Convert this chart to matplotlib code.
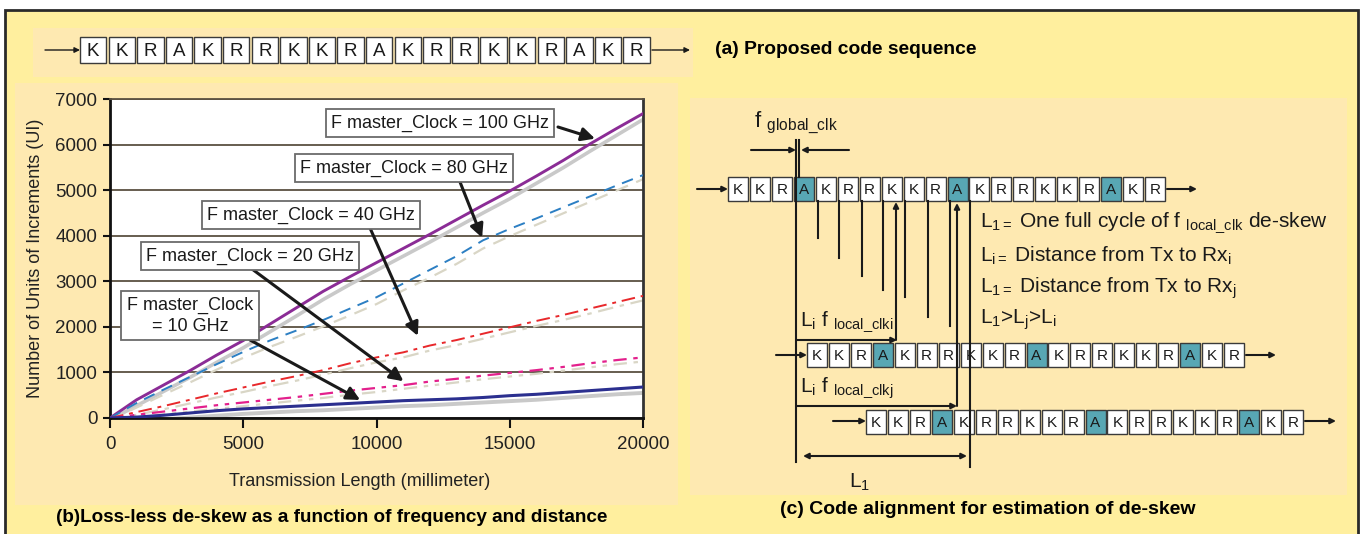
import matplotlib
matplotlib.use("Agg")
import matplotlib.pyplot as plt
from matplotlib.patches import Rectangle
from matplotlib import font_manager
import numpy as np

plt.rcParams['font.family'] = ['Liberation Sans', 'DejaVu Sans']
plt.rcParams['mathtext.fontset'] = 'custom'
plt.rcParams['mathtext.rm'] = 'Liberation Sans'
plt.rcParams['mathtext.it'] = 'Liberation Sans'

installed = {f.name for f in font_manager.fontManager.ttflist}
NARROW = 'Liberation Sans Narrow' if 'Liberation Sans Narrow' in installed else 'Liberation Sans'

# code sequence used in every row
code_seq = "KKRAKRRKKRAKRRKKRAKR"

# de-skew (UI) vs transmission length, read per master clock
distance_mm = [0, 1000, 2000, 3000, 4000, 5000, 6000, 7000, 8000, 9000, 10000,
               11000, 12000, 13000, 14000, 15000, 16000, 17000, 18000, 19000, 20000]
ui_100 = [0, 400, 720, 1040, 1380, 1700, 2060, 2420, 2780, 3100, 3410,
          3720, 4030, 4350, 4670, 4980, 5310, 5650, 6010, 6350, 6680]
ui_100_ref = [-40, 270, 580, 890, 1220, 1540, 1890, 2240, 2600, 2930, 3240,
              3550, 3860, 4180, 4500, 4810, 5150, 5490, 5850, 6200, 6550]
ui_80 = [0, 330, 620, 900, 1180, 1450, 1700, 1920, 2150, 2400, 2650,
         2950, 3250, 3550, 3900, 4150, 4380, 4620, 4860, 5100, 5330]
ui_80_ref = [-40, 230, 510, 780, 1060, 1320, 1560, 1780, 2010, 2250, 2500,
             2800, 3080, 3380, 3720, 3990, 4240, 4490, 4740, 4990, 5240]
ui_40 = [0, 130, 260, 400, 540, 670, 800, 920, 1050, 1200, 1330,
         1440, 1590, 1710, 1850, 1990, 2130, 2260, 2400, 2540, 2680]
ui_40_ref = [-30, 70, 190, 320, 450, 570, 700, 820, 950, 1090, 1220,
             1330, 1480, 1600, 1740, 1880, 2020, 2150, 2290, 2440, 2580]
ui_20 = [0, 70, 140, 210, 280, 340, 400, 460, 530, 600, 660,
         720, 800, 860, 930, 990, 1050, 1120, 1200, 1270, 1330]
ui_20_ref = [-40, 10, 80, 140, 200, 260, 320, 380, 440, 510, 570,
             640, 710, 780, 850, 910, 970, 1040, 1110, 1180, 1240]
ui_10 = [0, 20, 60, 110, 160, 200, 230, 260, 290, 320, 350,
         380, 400, 420, 450, 490, 520, 560, 600, 640, 680]
ui_10_ref = [-70, -50, -30, 10, 50, 90, 120, 150, 170, 200, 230,
             260, 280, 310, 340, 370, 400, 440, 480, 520, 550]

x_ticks = [0, 5000, 10000, 15000, 20000]
y_ticks = [0, 1000, 2000, 3000, 4000, 5000, 6000, 7000]

W, H = 1364, 534
fig = plt.figure(figsize=(W / 100, H / 100), dpi=100)
fig.patch.set_facecolor('white')

# background / diagram layer in pixel units
bg = fig.add_axes([0, 0, 1, 1], zorder=0)
bg.set_xlim(0, W)
bg.set_ylim(H, 0)
bg.axis('off')

OUTER = '#FFEF9E'
INNER = '#FEE9B1'
bg.add_patch(Rectangle((5, 10), 1353, H, fc=OUTER, ec='none'))
bg.plot([5, 5, 1358, 1358], [H, 10, 10, H], color='#2a2a2a', lw=2,
        solid_joinstyle='miter')
bg.add_patch(Rectangle((33, 28), 660, 49, fc=INNER, ec='none'))
bg.add_patch(Rectangle((15, 83), 663, 422, fc=INNER, ec='none'))
bg.add_patch(Rectangle((690, 98), 657, 397, fc=INNER, ec='none'))


def arrow(ax, p0, p1, lw=1.5, ms=10, style='-|>'):
    ax.annotate('', xy=p1, xytext=p0, xycoords='data', textcoords='data',
                arrowprops=dict(arrowstyle=style, lw=lw, color='#1a1a1a',
                                mutation_scale=ms, shrinkA=0, shrinkB=0))


def draw_seq(ax, x0, ytop, pitch, bw, bh, fs, teal=False):
    for i, ch in enumerate(code_seq):
        fc = '#58A7B4' if (teal and ch == 'A') else 'white'
        ax.add_patch(Rectangle((x0 + i * pitch, ytop), bw, bh, fc=fc,
                               ec='#3a3a3a', lw=1.0))
        ax.text(x0 + i * pitch + bw / 2, ytop + bh / 2 + 1, ch, ha='center',
                va='center', fontsize=fs, color='#1a1a1a')


# (a) proposed code sequence
draw_seq(bg, 80, 37, 28.6, 26.3, 26, 13.5)
arrow(bg, (45, 50), (80, 50), lw=1.0, ms=8)
arrow(bg, (652, 50), (690, 50), lw=1.0, ms=8)
bg.text(715, 49, "(a) Proposed code sequence", fontsize=13.9, fontweight='bold',
        ha='left', va='center', family=[NARROW, 'Liberation Sans'])

# (b) chart
ax = fig.add_axes([110 / W, (H - 418) / H, 533 / W, 319 / H], zorder=2)
ax.set_facecolor('white')
ax.set_xlim(0, 20000)
ax.set_ylim(0, 7000)

gray_solid = '#C9C9C9'
gray_dash = '#D9D6C6'
ax.plot(distance_mm, ui_100_ref, color=gray_solid, lw=2.6, zorder=2)
ax.plot(distance_mm, ui_80_ref, color=gray_dash, lw=1.6, dashes=(6, 4), zorder=2)
ax.plot(distance_mm, ui_40_ref, color=gray_dash, lw=1.6, dashes=(7, 3, 2, 3), zorder=2)
ax.plot(distance_mm, ui_20_ref, color=gray_dash, lw=1.6, dashes=(6, 3, 2, 3, 2, 3), zorder=2)
ax.plot(distance_mm, ui_10_ref, color=gray_solid, lw=2.8, zorder=2)

ax.plot(distance_mm, ui_100, color='#8B2C96', lw=2.1, zorder=3)
ax.plot(distance_mm, ui_80, color='#2C7FC3', lw=1.4, dashes=(6, 4), zorder=3)
ax.plot(distance_mm, ui_40, color='#E8282B', lw=1.4, dashes=(7, 3, 2, 3), zorder=3)
ax.plot(distance_mm, ui_20, color='#E3208C', lw=1.6, dashes=(6, 3, 2, 3, 2, 3), zorder=3)
ax.plot(distance_mm, ui_10, color='#2B2F8F', lw=2.2, zorder=3)

ax.set_yticks(y_ticks)
ax.set_xticks(x_ticks)
ax.set_yticklabels([str(v) for v in y_ticks])
ax.set_xticklabels([str(v) for v in x_ticks])
ax.grid(axis='y', color='#5b5141', lw=1.3)
ax.set_axisbelow(True)
for side in ['left', 'bottom']:
    ax.spines[side].set_color('#111111')
    ax.spines[side].set_linewidth(2.0)
ax.spines['right'].set_color('#333333')
ax.spines['right'].set_linewidth(2.0)
ax.spines['top'].set_color('#5b5141')
ax.spines['top'].set_linewidth(1.3)
ax.tick_params(axis='both', direction='out', width=1.5, colors='#111111',
               labelsize=13.5, labelcolor='#222222')
ax.tick_params(axis='y', length=5, pad=4)
ax.tick_params(axis='x', length=7, pad=6)

bg.text(36, 258, "Number of Units of Increments (UI)", rotation=90, fontsize=13,
        ha='center', va='center', color='#222222')
bg.text(360, 482, "Transmission Length (millimeter)", fontsize=13,
        ha='center', va='center', color='#222222')
bg.text(332, 518, "(b)Loss-less de-skew as a function of frequency and distance",
        fontsize=13.6, fontweight='bold', ha='center', va='center',
        family=[NARROW, 'Liberation Sans'])

# callouts sit above the chart
ov = fig.add_axes([0, 0, 1, 1], zorder=5)
ov.set_xlim(0, W)
ov.set_ylim(H, 0)
ov.axis('off')
ov.patch.set_alpha(0)

box = dict(boxstyle='square,pad=0.3', fc='white', ec='#6b6b6b', lw=1.3)
callouts = [
    ("F master_Clock = 100 GHz", (440, 123), (558, 127), ui_100, 18300, 2),
    ("F master_Clock = 80 GHz", (404, 168), (460, 182), ui_80, 14000, 2),
    ("F master_Clock = 40 GHz", (311, 215), (370, 228), ui_40, 11740, 9),
    ("F master_Clock = 20 GHz", (250, 256), (252, 269), ui_20, 11180, 4),
    ("F master_Clock\n= 10 GHz", (190, 316), (250, 340), ui_10, 9570, 4),
]
for label, center, start, series, xd, gap in callouts:
    ov.text(center[0], center[1], label, ha='center', va='center', fontsize=13,
            color='#1a1a1a', bbox=box, linespacing=1.3, zorder=6)
    yd = np.interp(xd, distance_mm, series)
    ov.annotate('', xy=(xd, yd), xycoords=ax.transData, xytext=start,
                textcoords=ov.transData,
                arrowprops=dict(arrowstyle='-|>', lw=2.2, color='#1a1a1a',
                                mutation_scale=20, shrinkA=0, shrinkB=gap),
                zorder=5)

# (c) code alignment diagram
pitch_c, bw_c, bh_c = 21.95, 20, 24
draw_seq(bg, 728, 177, pitch_c, bw_c, bh_c, 11, teal=True)
draw_seq(bg, 807, 343, pitch_c, bw_c, bh_c, 11, teal=True)
draw_seq(bg, 866, 410, pitch_c, bw_c, bh_c, 11, teal=True)
for y, xa, xb in [(189, 697, 728), (355, 776, 807), (421, 833, 866)]:
    arrow(bg, (xa, y), (xb, y), lw=1.5, ms=8)
for y, xa, xb in [(189, 1167, 1197), (355, 1246, 1276), (421, 1305, 1336)]:
    arrow(bg, (xa, y), (xb, y), lw=1.5, ms=8)

lk = dict(color='#1a1a1a', lw=1.5)
bg.plot([796, 796], [140, 462], **lk)
bg.plot([799, 799], [140, 177], **lk)
arrow(bg, (751, 150), (796, 150), lw=1.5, ms=8)
arrow(bg, (849, 150), (801, 150), lw=1.5, ms=8)
bg.text(754, 123, r"f $_{\mathrm{global\_clk}}$", fontsize=16, ha='left',
        va='center', color='#1a1a1a')

for x, yend in [(818, 238), (839, 258), (862, 276), (883, 290), (905, 297),
                (928, 317), (950, 326), (970, 467)]:
    bg.plot([x, x], [201, yend], **lk)
arrow(bg, (896, 340), (896, 202), lw=1.5, ms=8)
arrow(bg, (796, 340), (897, 340), lw=1.5, ms=8)
arrow(bg, (957, 406), (957, 203), lw=1.5, ms=8)
arrow(bg, (796, 406), (957, 406), lw=1.5, ms=8)
arrow(bg, (803, 456), (967, 456), lw=1.5, ms=8, style='<|-|>')

bg.text(800, 322, r"L$_\mathrm{i}$ f $_{\mathrm{local\_clki}}$", fontsize=15,
        ha='left', va='center', color='#1a1a1a')
bg.text(800, 388, r"L$_\mathrm{i}$ f $_{\mathrm{local\_clkj}}$", fontsize=15,
        ha='left', va='center', color='#1a1a1a')
bg.text(849, 482, r"L$_1$", fontsize=15, ha='left', va='center', color='#1a1a1a')

rows = [
    (223, r"L$_{1=}$ One full cycle of f $_{\mathrm{local\_clk}}$ de-skew"),
    (256, r"L$_{\mathrm{i}=}$ Distance from Tx to Rx$_\mathrm{i}$"),
    (288, r"L$_{1=}$ Distance from Tx to Rx$_\mathrm{j}$"),
    (320, r"L$_1$>L$_\mathrm{j}$>L$_\mathrm{i}$"),
]
for y, s in rows:
    bg.text(980, y, s, fontsize=15, ha='left', va='center', color='#1a1a1a')

bg.text(988, 509, "(c) Code alignment for estimation of de-skew", fontsize=14,
        fontweight='bold', ha='center', va='center',
        family=[NARROW, 'Liberation Sans'])

fig.savefig("out.png", dpi=100, facecolor=fig.get_facecolor())
